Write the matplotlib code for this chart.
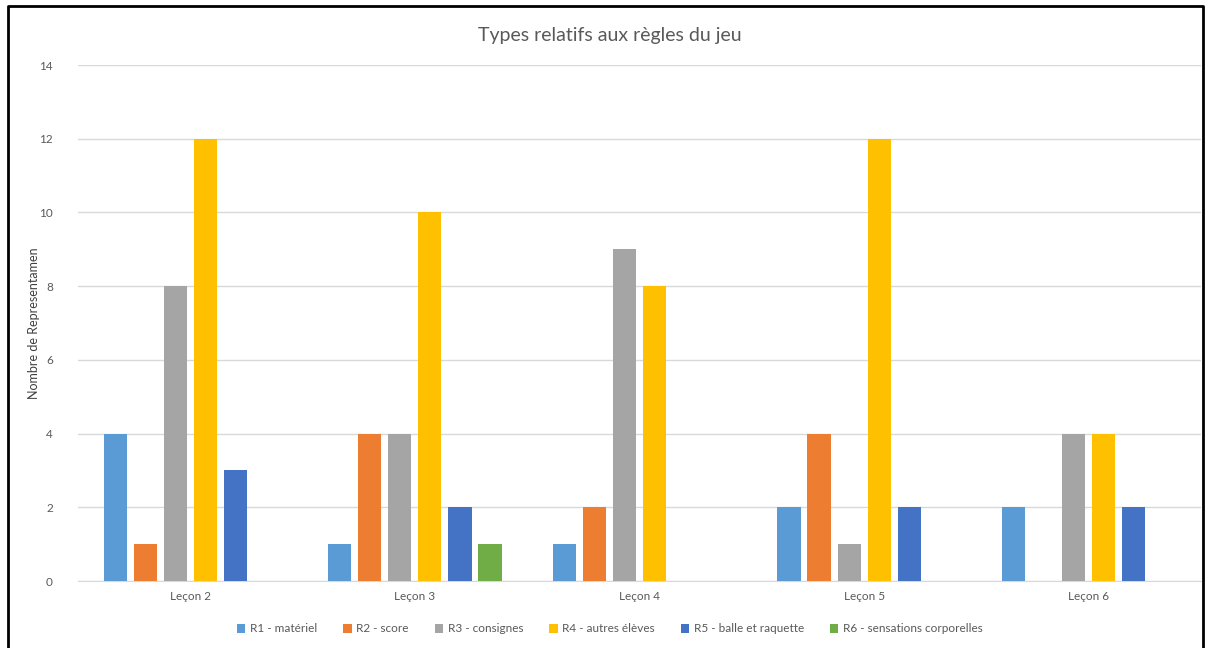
import numpy as np
import matplotlib
matplotlib.use("Agg")
import matplotlib.pyplot as plt
from matplotlib.lines import Line2D

plt.rcParams['font.family'] = ['Lato', 'DejaVu Sans']

# Donnees
lecons = ["Leçon 2", "Leçon 3", "Leçon 4", "Leçon 5", "Leçon 6"]
series = ["R1 - matériel", "R2 - score", "R3 - consignes",
          "R4 - autres élèves", "R5 - balle et raquette", "R6 - sensations corporelles"]
r1 = [4, 1, 1, 2, 2]
r2 = [1, 4, 2, 4, 0]
r3 = [8, 4, 9, 1, 4]
r4 = [12, 10, 8, 12, 4]
r5 = [3, 2, 0, 2, 2]
r6 = [0, 1, 0, 0, 0]
valeurs = [r1, r2, r3, r4, r5, r6]
couleurs = ["#5B9BD5", "#ED7D31", "#A5A5A5", "#FFC000", "#4472C4", "#70AD47"]

W, H = 1209, 648
fig = plt.figure(figsize=(W / 100, H / 100), dpi=100)
ax = fig.add_axes([78 / W, 1 - 581 / H, (1201 - 78) / W, (581 - 65) / H])

x = np.arange(len(lecons))
pas = 0.1337
largeur = 0.103
for i, (nom, vals, c) in enumerate(zip(series, valeurs, couleurs)):
    ax.bar(x + (i - 2.5) * pas, vals, largeur, color=c, label=nom, zorder=3)

ax.set_xlim(-0.5, len(lecons) - 0.5)
ax.set_ylim(0, 14)
ax.set_yticks(range(0, 15, 2))
ax.set_xticks(x)
ax.set_xticklabels(lecons)
ax.grid(axis='y', color="#D9D9D9", linewidth=1, zorder=0)
for s in ["top", "right", "left"]:
    ax.spines[s].set_visible(False)
ax.spines["bottom"].set_color("#D9D9D9")
ax.tick_params(axis='both', length=0, labelsize=8.5, colors="#595959")
ax.tick_params(axis='y', pad=18)
ax.tick_params(axis='x', pad=7)

ax.set_ylabel("Nombre de Representamen", fontsize=9, color="#404040")
ax.yaxis.set_label_coords(-38 / 1123, 0.5)
fig.text(610 / W, 1 - 35 / H, "Types relatifs aux règles du jeu", ha="center", va="center",
         fontsize=14, color="#595959")

fig.legend(loc="center", bbox_to_anchor=(610 / W, 1 - 629 / H), ncol=6, frameon=False,
           fontsize=8.5, handlelength=0.7, handleheight=0.7, handletextpad=0.4,
           columnspacing=2.2, labelcolor="#595959")

# cadre noir autour du graphique
xs = [7.5 / W, 7.5 / W, 1203 / W, 1203 / W]
ys = [-0.05, 1 - 5.5 / H, 1 - 5.5 / H, -0.05]
fig.add_artist(Line2D(xs, ys, transform=fig.transFigure, color="black", linewidth=2))

fig.savefig("out.png", dpi=100)
